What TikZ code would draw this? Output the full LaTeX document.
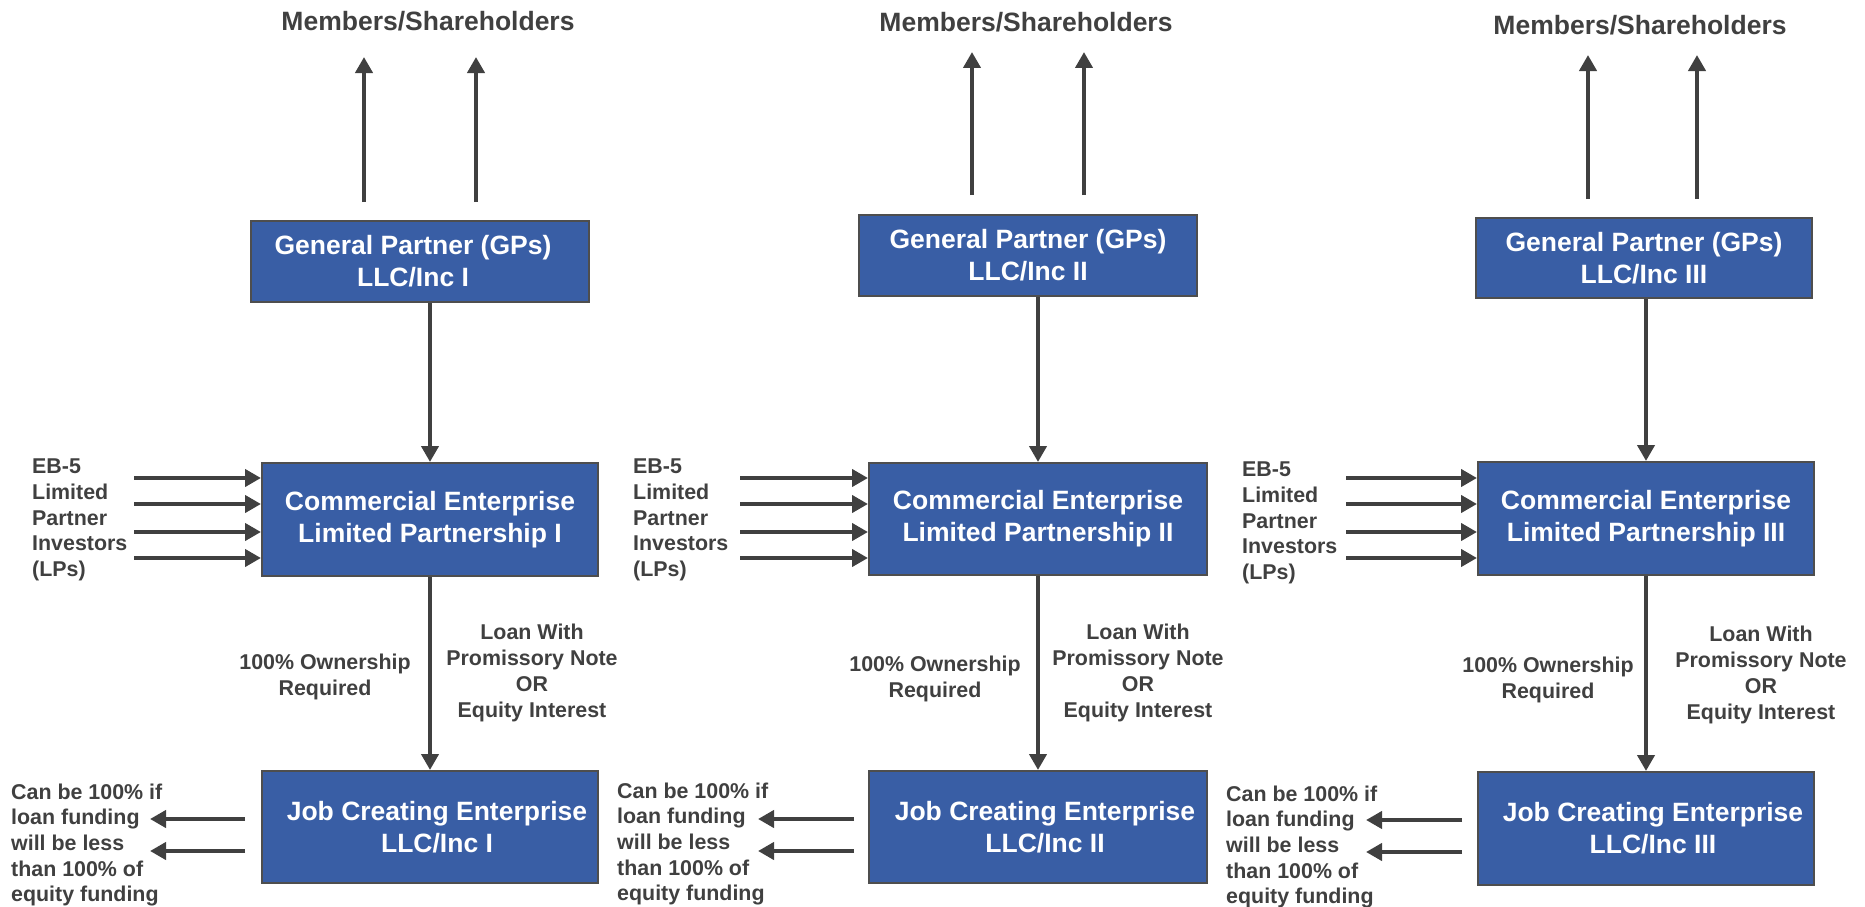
\documentclass[tikz,border=0pt]{standalone}
\usepackage{fontspec}
\setmainfont{Liberation Sans}
\usetikzlibrary{arrows.meta}
\definecolor{boxblue}{RGB}{57,94,165}
\definecolor{inkgray}{RGB}{64,64,64}
\definecolor{boxedge}{RGB}{78,78,78}
\begin{document}
\begin{tikzpicture}[x=1pt,y=-1pt,
  bigbox/.style={draw=boxedge, line width=2pt, fill=boxblue, text=white,
    font=\fontsize{26.5}{32}\selectfont\bfseries, align=center, inner sep=0pt,
    minimum width=336pt},
  lbl/.style={text=inkgray, font=\fontsize{21.4}{25.7}\selectfont\bfseries, inner sep=0pt},
  titlelbl/.style={text=inkgray, font=\fontsize{26.5}{32}\selectfont\bfseries, inner sep=0pt},
  conn/.style={draw=inkgray, line width=4pt, -{Triangle[length=16pt,width=17pt]}},
  fatconn/.style={conn, line width=4.6pt}
]
\useasboundingbox (0,0) rectangle (1865,907);

% ===================== Column I =====================
\node[titlelbl] (T1) at (428,21) {Members/Shareholders};
\node[bigbox, minimum width=338pt, minimum height=81pt] (GP1) at (420,261.5) {General Partner (GPs)\hspace*{14pt}\\LLC/Inc I\hspace*{14pt}};
\node[bigbox, minimum height=113pt] (CE1) at (430,519.5) {Commercial Enterprise\\Limited Partnership I};
\node[bigbox, minimum height=112pt] (JC1) at (430,827) {\hspace*{14pt}Job Creating Enterprise\\\hspace*{14pt}LLC/Inc I};
\node[lbl, anchor=west, align=left] (EB1) at (32,520) {EB-5\\Limited\\Partner\\Investors\\(LPs)};
\node[lbl, align=center] (OW1) at (325,677) {100\% Ownership\\Required};
\node[lbl, align=center] (LN1) at (532,673) {Loan With\\Promissory Note\\OR\\Equity Interest};
\node[lbl, anchor=west, align=left] (CB1) at (11,845) {Can be 100\% if\\loan funding\\will be less\\than 100\% of\\equity funding};

\coordinate (U1a) at (364,202); \coordinate (U1at) at (364,57);
\coordinate (U1b) at (476,202); \coordinate (U1bt) at (476,57);
\draw[conn] (U1a) -- (U1at);
\draw[conn] (U1b) -- (U1bt);
\draw[conn] (CE1.north |- GP1.south) -- (CE1.north);
\draw[conn] (CE1.south) -- (JC1.north);
\foreach \k/\yy in {a/478,b/504,c/532,d/558}{
  \coordinate (L1\k) at (134,\yy);
  \draw[fatconn] (L1\k) -- (L1\k -| CE1.west);
}
\coordinate (B1a) at (245,819); \coordinate (B1at) at (150,819);
\coordinate (B1b) at (245,851); \coordinate (B1bt) at (150,851);
\draw[conn] (B1a) -- (B1at);
\draw[conn] (B1b) -- (B1bt);

% ===================== Column II =====================
\node[titlelbl] (T2) at (1026,22) {Members/Shareholders};
\node[bigbox, minimum width=338pt, minimum height=81pt] (GP2) at (1028,255.5) {General Partner (GPs)\\LLC/Inc II};
\node[bigbox, minimum width=338pt, minimum height=112pt] (CE2) at (1038,519) {Commercial Enterprise\\Limited Partnership II};
\node[bigbox, minimum width=338pt, minimum height=112pt] (JC2) at (1038,827) {\hspace*{14pt}Job Creating Enterprise\\\hspace*{14pt}LLC/Inc II};
\node[lbl, anchor=west, align=left] (EB2) at (633,520) {EB-5\\Limited\\Partner\\Investors\\(LPs)};
\node[lbl, align=center] (OW2) at (935,679) {100\% Ownership\\Required};
\node[lbl, align=center] (LN2) at (1138,673) {Loan With\\Promissory Note\\OR\\Equity Interest};
\node[lbl, anchor=west, align=left] (CB2) at (617,844) {Can be 100\% if\\loan funding\\will be less\\than 100\% of\\equity funding};

\coordinate (U2a) at (972,195); \coordinate (U2at) at (972,52);
\coordinate (U2b) at (1084,195); \coordinate (U2bt) at (1084,52);
\draw[conn] (U2a) -- (U2at);
\draw[conn] (U2b) -- (U2bt);
\draw[conn] (CE2.north |- GP2.south) -- (CE2.north);
\draw[conn] (CE2.south) -- (JC2.north);
\foreach \k/\yy in {a/478,b/504,c/532,d/558}{
  \coordinate (L2\k) at (740,\yy);
  \draw[fatconn] (L2\k) -- (L2\k -| CE2.west);
}
\coordinate (B2a) at (854,819); \coordinate (B2at) at (758,819);
\coordinate (B2b) at (854,851); \coordinate (B2bt) at (758,851);
\draw[conn] (B2a) -- (B2at);
\draw[conn] (B2b) -- (B2bt);

% ===================== Column III =====================
\node[titlelbl] (T3) at (1640,25) {Members/Shareholders};
\node[bigbox, minimum height=80pt] (GP3) at (1644,258) {General Partner (GPs)\\LLC/Inc III};
\node[bigbox, minimum height=113pt] (CE3) at (1646,518.5) {Commercial Enterprise\\Limited Partnership III};
\node[bigbox, minimum height=113pt] (JC3) at (1646,828.5) {\hspace*{14pt}Job Creating Enterprise\\\hspace*{14pt}LLC/Inc III};
\node[lbl, anchor=west, align=left] (EB3) at (1242,523) {EB-5\\Limited\\Partner\\Investors\\(LPs)};
\node[lbl, align=center] (OW3) at (1548,680) {100\% Ownership\\Required};
\node[lbl, align=center] (LN3) at (1761,675) {Loan With\\Promissory Note\\OR\\Equity Interest};
\node[lbl, anchor=west, align=left] (CB3) at (1226,847) {Can be 100\% if\\loan funding\\will be less\\than 100\% of\\equity funding};

\coordinate (U3a) at (1588,199); \coordinate (U3at) at (1588,55);
\coordinate (U3b) at (1697,199); \coordinate (U3bt) at (1697,55);
\draw[conn] (U3a) -- (U3at);
\draw[conn] (U3b) -- (U3bt);
\draw[conn] (CE3.north |- GP3.south) -- (CE3.north);
\draw[conn] (CE3.south) -- (JC3.north);
\foreach \k/\yy in {a/478,b/504,c/532,d/558}{
  \coordinate (L3\k) at (1346,\yy);
  \draw[fatconn] (L3\k) -- (L3\k -| CE3.west);
}
\coordinate (B3a) at (1462,820); \coordinate (B3at) at (1366,820);
\coordinate (B3b) at (1462,852); \coordinate (B3bt) at (1366,852);
\draw[conn] (B3a) -- (B3at);
\draw[conn] (B3b) -- (B3bt);
\end{tikzpicture}
\end{document}
